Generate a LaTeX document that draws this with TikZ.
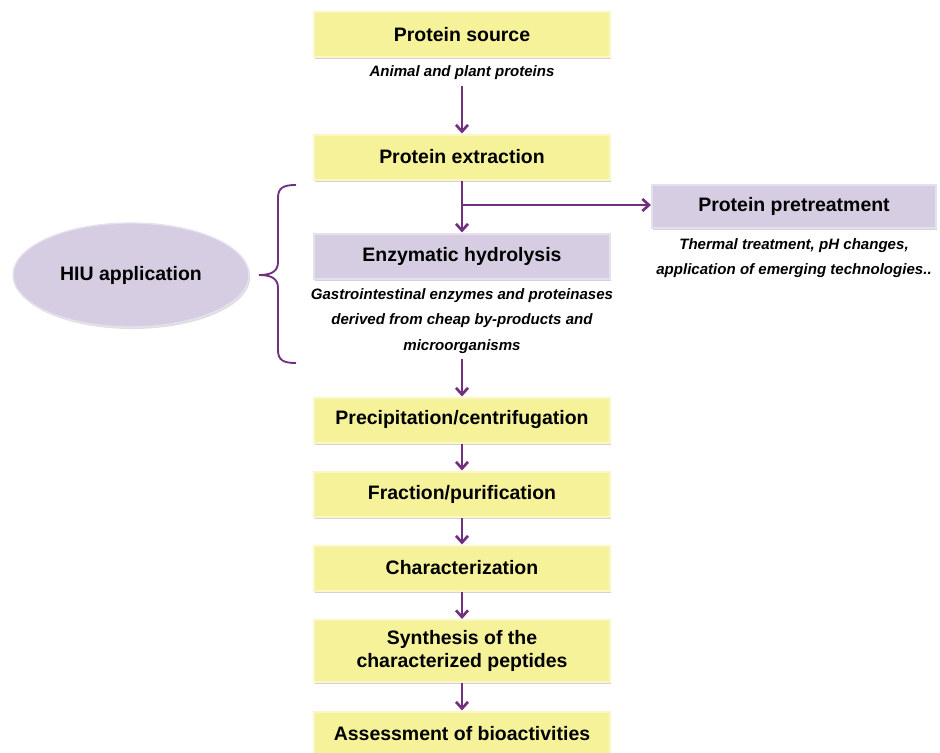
\documentclass[tikz,border=0pt]{standalone}
\usepackage{fontspec}
\setmainfont{Liberation Sans}
\usetikzlibrary{arrows.meta,shapes.geometric,shadows}
\definecolor{yel}{HTML}{F6F29A}
\definecolor{yeledge}{HTML}{FAF7C4}
\definecolor{lav}{HTML}{D6CDE2}
\definecolor{lavedge}{HTML}{E6E0EE}
\definecolor{pur}{HTML}{70307F}
\newcommand\boxtitlefont{\bfseries\fontsize{14.6}{17}\selectfont}
\newcommand\notetextfont{\bfseries\itshape\fontsize{11.3}{19}\selectfont}
\tikzset{
  ybox/.style={rectangle, fill=yel, draw=yeledge, line width=1.5pt,
    minimum width=222pt, minimum height=33.75pt, inner sep=0pt,
    font=\boxtitlefont, align=center,
    drop shadow={shadow xshift=0.8pt, shadow yshift=-1.5pt, opacity=0.35}},
  lbox/.style={ybox, fill=lav, draw=lavedge},
  note/.style={font=\notetextfont, align=center, inner sep=1pt},
  arr/.style={draw=pur, line width=2pt, -{Straight Barb[length=5pt,width=9pt]}},
}
\begin{document}
\begin{tikzpicture}[x=0.75pt, y=-0.75pt]
\useasboundingbox (0,0) rectangle (940,753);

\node[ybox] (src) at (462,34.5) {Protein source};
\node[note] (srct) at (462,73) {Animal and plant proteins};
\node[ybox] (ext) at (462,157) {Protein extraction};
\node[lbox, minimum width=213pt, minimum height=32.25pt] (pre) at (794,206.5) {Protein pretreatment};
\node[note] (pret) at (794,258) {Thermal treatment, pH changes,\\application of emerging technologies..};
\node[lbox] (enz) at (462,256) {Enzymatic hydrolysis};
\node[note] (enzt) at (462,321) {Gastrointestinal enzymes and proteinases\\derived from cheap by-products and\\microorganisms};
\node[ybox] (pcp) at (462,420) {Precipitation/centrifugation};
\node[ybox] (frc) at (462,494) {Fraction/purification};
\node[ybox] (chr) at (462,568) {Characterization};
\node[ybox, minimum height=46.5pt] (syn) at (462,651) {Synthesis of the\\characterized peptides};
\node[ybox] (ass) at (462,734) {Assessment of bioactivities};

\node[ellipse, fill=lav, draw=lavedge, line width=1pt, minimum width=177pt, minimum height=78pt,
  inner sep=0pt, font=\boxtitlefont,
  drop shadow={shadow xshift=1pt, shadow yshift=-1.5pt, opacity=0.25}] (hiu) at (131,275) {HIU application};

\draw[arr, shorten <=3pt] (srct) -- (ext);
\draw[arr] (ext) -- (enz);
\coordinate (br) at (462,205);
\draw[arr] (br) -- (pre.west |- br);
\draw[arr, shorten <=3pt] (enzt) -- (pcp);
\draw[arr] (pcp) -- (frc);
\draw[arr] (frc) -- (chr);
\draw[arr] (chr) -- (syn);
\draw[arr] (syn) -- (ass);

% brace
\draw[pur, line width=1.4pt]
  (296,185) .. controls (283,185) and (278,188) .. (278,198) -- (278,262)
  .. controls (278,271) and (272,275) .. (259,275)
  .. controls (272,275) and (278,279) .. (278,288) -- (278,350)
  .. controls (278,360) and (283,363) .. (296,363);
\end{tikzpicture}
\end{document}
